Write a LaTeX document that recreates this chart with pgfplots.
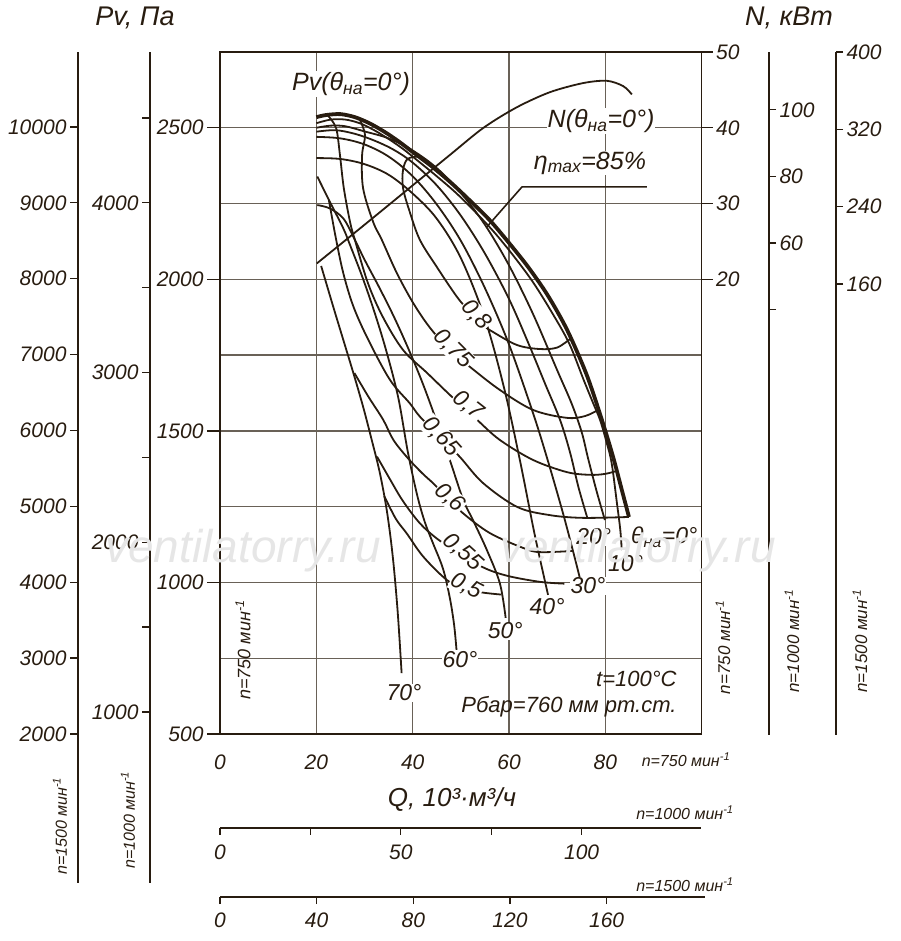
\documentclass[border=0pt]{standalone}
\usepackage{fontspec}
\setmainfont{Liberation Sans}
\usepackage{pgfplots}
\pgfplotsset{compat=1.18}
\definecolor{ink}{RGB}{40,28,16}
\definecolor{gridc}{RGB}{105,97,87}
\definecolor{wm}{RGB}{230,230,230}
\newcommand{\fs}[1]{\fontsize{#1}{#1}\selectfont}
\pgfplotsset{
  every axis/.append style={scale only axis,
    scaled x ticks=false, scaled y ticks=false,
    /pgf/number format/assume math mode=true,
    /pgf/number format/1000 sep={},
    ticklabel style={font=\itshape\fs{21}, text=ink},
    tick style={ink, line width=1.3pt},
    axis line style={ink, line width=1.4pt}},
  sc/.style={axis line style={-}, every outer x axis line/.append style={-}, every outer y axis line/.append style={-}},
  thin/.style={ink, line width=1.8pt, smooth, tension=0.55},
}
\begin{document}
\begin{tikzpicture}
\path[use as bounding box] (0pt,0pt) rectangle (900pt,941pt);

% ---------- main axis (n = 750) ----------
\begin{axis}[
  at={(220pt,207pt)}, anchor=south west, width=481.7pt, height=682pt,
  xmin=0, xmax=100, ymin=500, ymax=2750,
  xtick={0,20,40,60,80}, ytick={500,1000,1500,2000,2500},
  minor ytick={750,1250,1750,2250},
  xmajorgrids, ymajorgrids, yminorgrids,
  major grid style={gridc, line width=1.4pt},
  minor grid style={gridc, line width=1.4pt},
  xtick style={draw=none},
  xtick pos=left, ytick pos=left,
  tick align=outside, major tick length=13pt, minor tick length=0pt,
  xticklabel style={yshift=-4pt},
  clip=false,
]
% theta = 70
\addplot[thin] coordinates {(21,2044)(23.5,1910)(25.6,1800)(27.7,1690)(29.7,1580)(31.5,1470)(33.2,1360)(34.7,1230)(35.9,1080)(36.9,900)(37.7,701)};
% theta = 60
\addplot[thin] coordinates {(20.2,2339)(22.8,2256)(25.6,2168)(27,2113)(29.5,2010)(32,1895)(34.5,1765)(37,1610)(39,1430)(40.9,1290)(42.5,1200)(44.2,1130)(46.3,1045)(47.7,950)(48.6,860)(49.1,777)};
% theta = 50
\addplot[thin] coordinates {(20.2,2245)(22.8,2234)(25.6,2201)(27.7,2140)(30,2065)(33,1975)(36,1880)(39,1775)(42,1660)(45,1530)(48,1390)(50.5,1272)(52.5,1206)(55.4,1107)(58.1,997)(59.3,883)};
% theta = 40
\addplot[thin] coordinates {(20,2400)(25,2397)(30,2380)(35,2345)(40,2283)(45,2200)(50,2070)(55,1870)(59,1640)(62.3,1400)(65.3,1160)(68.1,959)};
% theta = 30
\addplot[thin] coordinates {(20,2470)(25,2465)(30,2445)(35,2405)(40,2340)(45,2247)(50,2127)(55,1971)(60,1785)(65,1558)(68,1405)(71,1240)(73,1121)(74.7,1015)};
% intermediate curve
\addplot[thin] coordinates {(20,2487)(24,2492)(28,2480)(32,2458)(36,2428)(40,2385)(45,2310)(50,2210)(55,2085)(60,1935)(64,1790)(67.5,1655)(70.6,1536)(72.7,1427)(74.4,1315)(76.2,1216)};
% theta = 20
\addplot[thin] coordinates {(20,2500)(23,2507)(26,2505)(30,2488)(35,2465)(40,2425)(45,2367)(50,2285)(55,2180)(60,2046)(65,1885)(70,1700)(73,1590)(75.1,1495)(76.4,1410)(78.2,1300)(79.9,1206)};
% theta = 10
\addplot[thin] coordinates {(20,2515)(23,2527)(26,2527)(29,2515)(32,2492)(35,2463)(38,2430)(41,2392)(45,2340)(49,2285)(53,2222)(57,2154)(61,2076)(65,1990)(69,1888)(72.5,1788)(75.5,1668)(77.5,1590)(78.9,1536)(80.2,1465)(81.3,1394)(82.4,1262)(83.1,1173)(83.4,1107)};
% efficiency 0.8
\addplot[thin] coordinates {(41.5,2405)(39,2398)(38,2361)(38,2301)(39.4,2222)(41.5,2130)(45,2041)(49.2,1942)(51.9,1892)(54.6,1849)(56.7,1826)(61.7,1783)(66.4,1770)(70,1775)(72.8,1805)};
% efficiency 0.75
\addplot[thin] coordinates {(29,2528)(30.1,2476)(29.5,2410)(29.7,2301)(31.8,2189)(33.6,2130)(36.7,2021)(40.1,1922)(43.6,1840)(47.7,1767)(51.9,1711)(58.1,1635)(65,1569)(72,1543)(75.8,1549)(78.6,1570)};
% efficiency 0.7
\addplot[thin] coordinates {(22.4,2540)(24.1,2499)(24.9,2410)(25.7,2301)(27,2189)(28,2130)(30.7,1988)(33.8,1876)(38,1767)(43,1691)(47.3,1625)(50.4,1579)(53.4,1536)(58.1,1470)(65,1404)(72,1364)(76.8,1355)(79.9,1358)(82.4,1368)};
% efficiency 0.65
\addplot[thin] coordinates {(22.6,2262)(24,2140)(25.6,2020)(27.7,1910)(30.8,1800)(35.3,1668)(39.4,1591)(41.5,1547)(45.7,1480)(49.8,1414)(54.6,1328)(61.7,1249)(68.5,1222)(75.4,1213)(84.9,1216)};
% efficiency 0.6
\addplot[thin] coordinates {(27.9,1691)(30.8,1613)(33.9,1536)(36,1470)(39,1410)(42,1360)(44.2,1328)(47.1,1282)(50.4,1229)(56,1163)(62.9,1114)(66.4,1100)(73.3,1104)};
% efficiency 0.55
\addplot[thin] coordinates {(32.6,1415)(35.3,1340)(38,1268)(41.5,1195)(45,1145)(48.8,1105)(54.6,1050)(59.6,1022)(66.4,1002)(71.5,996)};
% efficiency 0.5
\addplot[thin] coordinates {(34.1,1285)(36.5,1210)(38.8,1161)(42.2,1085)(47.1,1008)(50.4,985)(54,968)(58.4,960)};
% eta max leader
\addplot[ink, line width=1.6pt] coordinates {(55.4,2173)(62.7,2305)(88.6,2305)};
% theta = 0 (thick)
\addplot[ink, line width=3.8pt, smooth] coordinates {(20,2535)(22,2542)(25,2545)(28,2535)(31,2515)(34,2488)(37,2456)(40,2420)(44,2372)(48,2318)(52,2258)(56,2195)(60,2120)(64,2040)(68,1948)(72,1835)(76,1690)(79,1550)(81.5,1420)(83.5,1300)(84.9,1216)};

\tikzset{lbl/.style={font=\itshape\fs{23}, text=ink, fill=white, inner sep=0.6pt}}
\node[lbl, rotate=-48] at (axis cs:53.1,1882) {0,8};
\node[lbl, rotate=-45] at (axis cs:48.4,1770) {0,75};
\node[lbl, rotate=-38] at (axis cs:51.5,1585) {0,7};
\node[lbl, rotate=-48] at (axis cs:45.9,1480) {0,65};
\node[lbl, rotate=-42] at (axis cs:47.7,1279) {0,6};
\node[lbl, rotate=-42] at (axis cs:50.4,1100) {0,55};
\node[lbl, rotate=-28] at (axis cs:51.1,988) {0,5};

\node[lbl] at (axis cs:38.2,635) {70°};
\node[lbl] at (axis cs:49.8,747) {60°};
\node[lbl] at (axis cs:59.2,840) {50°};
\node[lbl] at (axis cs:67.9,919) {40°};
\node[lbl] at (axis cs:76.4,988) {30°};
\node[lbl] at (axis cs:77.6,1150) {20°};
\node[lbl] at (axis cs:84.2,1062) {10°};
\node[lbl] at (axis cs:92.2,1150) {θ\textsubscript{на}=0°};
\node[font=\itshape\fs{22}, text=ink, anchor=east] at (axis cs:95.5,681) {t=100°C};
\node[font=\itshape\fs{22}, text=ink, anchor=east] at (axis cs:95.5,589) {Рбар=760 мм рт.ст.};
\node[font=\itshape\fs{25}, text=ink, fill=white, inner sep=1pt] at (axis cs:27.2,2644) {Pv(θ\textsubscript{на}=0°)};
\node[font=\itshape\fs{25}, text=ink, fill=white, inner sep=1pt] at (axis cs:79.1,2522) {N(θ\textsubscript{на}=0°)};
\node[font=\itshape\fs{25}, text=ink, fill=white, inner sep=1pt] at (axis cs:76.8,2384) {η\textsubscript{max}=85\%};
\end{axis}

% ---------- N axis for n = 750 ----------
\begin{axis}[
  at={(220pt,207pt)}, anchor=south west, width=481.7pt, height=682pt,
  xmin=0, xmax=100, ymin=-40, ymax=50,
  axis x line=none, axis y line*=right, sc,
  ytick={20,30,40,50}, tick align=outside, major tick length=11pt,
]
\addplot[ink, line width=1.8pt, smooth] coordinates {(20.1,22.1)(30,27.2)(40,32.4)(47.7,36.4)(54.7,40.0)(61.6,42.7)(68.5,44.7)(75.4,45.9)(80.3,46.2)(83.7,45.5)(85.5,44.4)};
\end{axis}

% ---------- N axis for n = 1000 ----------
\begin{axis}[
  at={(769pt,206pt)}, anchor=south east, width=10pt, height=683pt,
  xmin=0, xmax=1, ymin=-88, ymax=117.4,
  axis x line=none, axis y line*=right, sc,
  ytick={40,60,80,100}, yticklabels={,60,80,100},
  tick align=outside, major tick length=7pt,
]
\end{axis}

% ---------- N axis for n = 1500 ----------
\begin{axis}[
  at={(836pt,206pt)}, anchor=south east, width=10pt, height=683pt,
  xmin=0, xmax=1, ymin=-306.6, ymax=400,
  axis x line=none, axis y line*=right, sc,
  ytick={160,240,320,400},
  tick align=outside, major tick length=7pt,
]
\end{axis}

% ---------- Pv axis for n = 1000 ----------
\begin{axis}[
  at={(150pt,58pt)}, anchor=south west, width=10pt, height=831pt,
  xmin=0, xmax=1, ymin=-8, ymax=4889,
  axis x line=none, axis y line*=left, sc,
  ytick={1000,1500,2000,2500,3000,3500,4000,4500},
  yticklabels={1000,,2000,,3000,,4000,},
  tick align=outside, major tick length=8pt,
]
\end{axis}

% ---------- Pv axis for n = 1500 ----------
\begin{axis}[
  at={(78pt,58pt)}, anchor=south west, width=10pt, height=831pt,
  xmin=0, xmax=1, ymin=36, ymax=10988,
  axis x line=none, axis y line*=left, sc,
  ytick={2000,3000,4000,5000,6000,7000,8000,9000,10000},
  tick align=outside, major tick length=8pt,
]
\end{axis}

% ---------- Q axis for n = 1000 ----------
\begin{axis}[
  at={(220pt,113pt)}, anchor=south west, width=481pt, height=10pt,
  xmin=0, xmax=133, ymin=0, ymax=1,
  axis y line=none, axis x line*=bottom, sc,
  xtick={0,25,50,75,100}, xticklabels={0,,50,,100},
  tick align=outside, major tick length=7pt,
  xticklabel style={yshift=-6pt},
]
\end{axis}

% ---------- Q axis for n = 1500 ----------
\begin{axis}[
  at={(220pt,44pt)}, anchor=south west, width=485pt, height=10pt,
  xmin=0, xmax=200.7, ymin=0, ymax=1,
  axis y line=none, axis x line*=bottom, sc,
  xtick={0,40,80,120,160},
  tick align=outside, major tick length=7pt,
  xticklabel style={yshift=-5pt},
]
\end{axis}

% ---------- titles and notes ----------
\node[font=\itshape\fs{27}, text=ink] at (135pt,923pt) {Pv, Па};
\node[font=\itshape\fs{27}, text=ink] at (789pt,923pt) {N, кВт};
\node[font=\itshape\fs{26}, text=ink] at (452pt,141pt) {Q, 10³·м³/ч};
\tikzset{nl/.style={font=\itshape\fs{16}, text=ink}}
\node[nl] at (686pt,181pt) {n=750 мин\textsuperscript{-1}};
\node[nl] at (685pt,128pt) {n=1000 мин\textsuperscript{-1}};
\node[nl] at (685pt,56pt) {n=1500 мин\textsuperscript{-1}};
\node[nl, rotate=90, font=\itshape\fs{18}] at (243pt,291pt) {n=750 мин\textsuperscript{-1}};
\node[nl, rotate=90, font=\itshape\fs{17}] at (723pt,294pt) {n=750 мин\textsuperscript{-1}};
\node[nl, rotate=90, font=\itshape\fs{17}] at (792pt,300pt) {n=1000 мин\textsuperscript{-1}};
\node[nl, rotate=90, font=\itshape\fs{17}] at (860pt,300pt) {n=1500 мин\textsuperscript{-1}};
\node[nl, rotate=90] at (60pt,115pt) {n=1500 мин\textsuperscript{-1}};
\node[nl, rotate=90] at (128pt,121pt) {n=1000 мин\textsuperscript{-1}};
% watermark
\node[font=\itshape\fs{46}, text=wm] at (243pt,390pt) {ventilatorry.ru};
\node[font=\itshape\fs{46}, text=wm] at (638pt,390pt) {ventilatorry.ru};
\end{tikzpicture}
\end{document}
